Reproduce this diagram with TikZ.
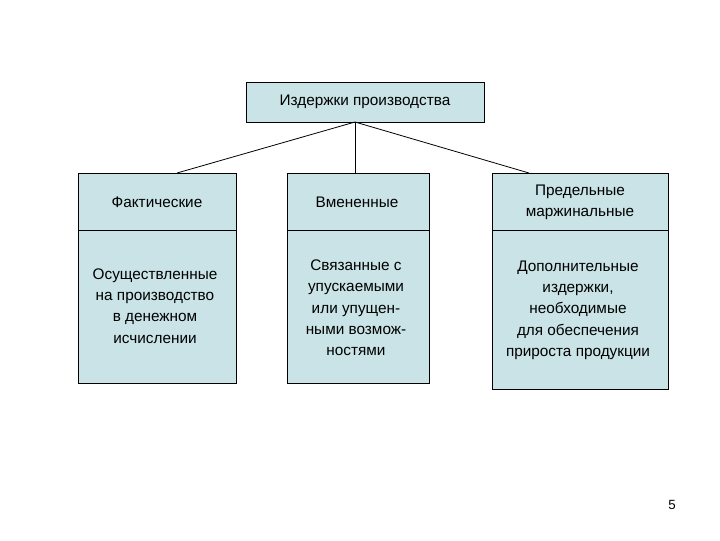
\documentclass[tikz,border=0pt]{standalone}
\usepackage{fontspec}
\setmainfont{Liberation Sans}
\definecolor{boxfill}{HTML}{C9E3E7}
\begin{document}
\begin{tikzpicture}[x=0.75pt,y=-0.75pt,
  bx/.style={draw=black,fill=boxfill,line width=0.6pt},
  tx/.style={align=center,font=\fontsize{11.5}{16}\selectfont,inner sep=0pt},
  ln/.style={line width=0.6pt}]
\useasboundingbox (0,0) rectangle (720,540);
\draw[bx] (246,82) rectangle (484,122);
\node[tx] (top) at (365,102) {Издержки производства};
\coordinate (tb) at (355,122);
% left
\draw[bx] (78,173) rectangle (236,383);
\draw[ln] (78,230) -- (236,230);
\node[tx] (l1) at (157,202) {Фактические};
\node[tx] (l2) at (155,306) {Осуществленные\\на производство\\в денежном\\исчислении};
% middle
\draw[bx] (287,173) rectangle (429,383);
\draw[ln] (287,230) -- (429,230);
\node[tx] (m1) at (357,202) {Вмененные};
\node[tx] (m2) at (356,308) {Связанные с\\упускаемыми\\или упущен-\\ными возмож-\\ностями};
% right
\draw[bx] (492,173) rectangle (668,389);
\draw[ln] (492,230) -- (668,230);
\node[tx] (r1) at (580,202) {Предельные\\маржинальные};
\node[tx] (r2) at (578,310) {Дополнительные\\издержки,\\необходимые\\для обеспечения\\прироста продукции};
\coordinate (lt) at (177,173);
\coordinate (mt) at (355,173);
\coordinate (rt) at (529,173);
\draw[ln] (tb) -- (lt);
\draw[ln] (tb) -- (mt);
\draw[ln] (tb) -- (rt);
\node[tx,font=\fontsize{10}{12}\selectfont] (pg) at (672,505) {5};
\end{tikzpicture}
\end{document}
